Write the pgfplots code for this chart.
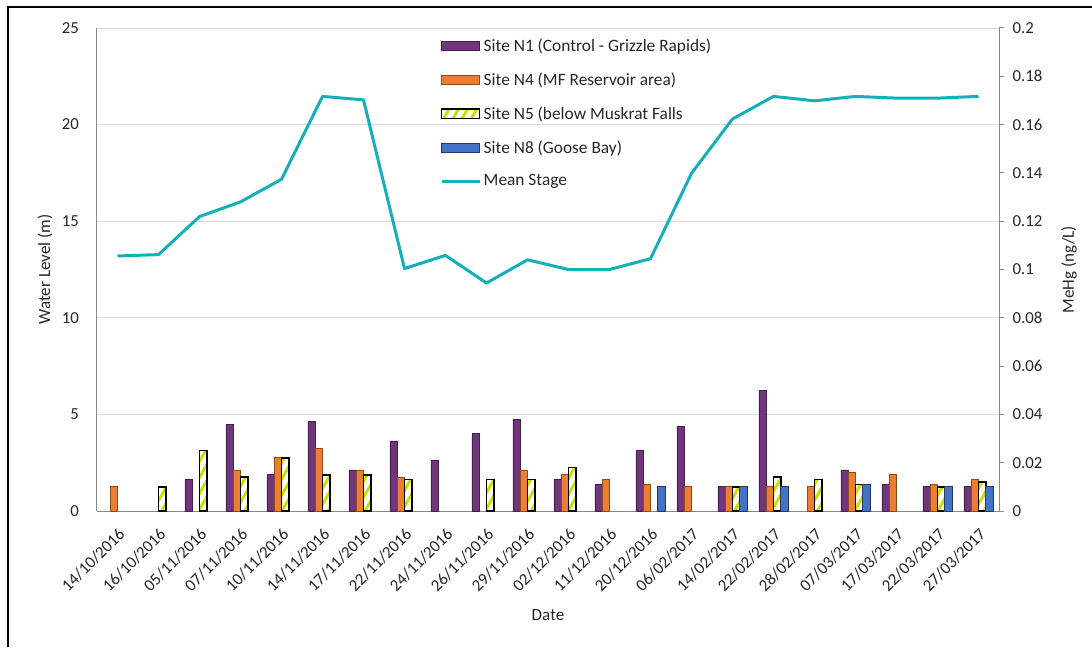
\documentclass[border=0pt]{standalone}
\usepackage{fontspec}
\setmainfont{Carlito}
\usepackage{pgfplots}
\pgfplotsset{compat=1.18}
\usetikzlibrary{patterns.meta}

\definecolor{n1}{HTML}{70357A}
\definecolor{n4}{HTML}{ED7D31}
\definecolor{n5}{HTML}{CCDD00}
\definecolor{n8}{HTML}{4472C4}
\definecolor{stage}{HTML}{14B0BA}
\definecolor{gridc}{HTML}{D9D9D9}
\definecolor{axisc}{HTML}{898989}
\definecolor{textc}{HTML}{262626}

\pgfplotsset{
  base/.style={
    width=676.5pt, height=362.25pt, scale only axis,
    at={(0pt,0pt)}, anchor=south west,
    xmin=-0.5, xmax=21.5,
    axis line style={draw=axisc, line width=0.75pt},
    tick label style={font=\fontsize{12.6}{14}\selectfont, text=textc},
    label style={font=\fontsize{12.8}{15}\selectfont, text=textc},
    /pgf/number format/assume math mode=true,
  },
  barleg/.style={legend image code/.code={\draw[##1] (0pt,-3.6pt) rectangle (28.5pt,3.6pt);}},
  lineleg/.style={legend image code/.code={\draw[##1] (0pt,0pt) -- (28.5pt,0pt);}},
}

\begin{document}
\begin{tikzpicture}
\useasboundingbox (-72.75pt,-102pt) rectangle (746.25pt,383.25pt);

% water level (left axis)
\begin{axis}[base,
    ymin=0, ymax=25, ytick={0,5,...,25},
    axis x line*=bottom, axis y line*=left,
    major tick length=0pt,
    ymajorgrids, grid style={draw=gridc, line width=0.75pt},
    xtick={0,...,21},
    xticklabels={14/10/2016,16/10/2016,05/11/2016,07/11/2016,10/11/2016,14/11/2016,17/11/2016,22/11/2016,24/11/2016,26/11/2016,29/11/2016,02/12/2016,11/12/2016,20/12/2016,06/02/2017,14/02/2017,22/02/2017,28/02/2017,07/03/2017,17/03/2017,22/03/2017,27/03/2017},
    xticklabel style={xshift=3.4pt, yshift=-15pt, rotate=45, anchor=east, inner sep=0pt},
    yticklabel style={xshift=-10pt},
    xlabel={Date},
    xlabel style={at={(axis description cs:0.5,-0.215)}, anchor=center},
    ylabel={Water Level (m)},
    ylabel style={at={(axis description cs:-0.0576,0.5)}, anchor=center},
]
\addplot[color=stage, line width=2.25pt, line join=round, no marks] coordinates {
(0,13.2) (1,13.27) (2,15.24) (3,16.0) (4,17.17) (5,21.46) (6,21.28) (7,12.55)
(8,13.23) (9,11.8) (10,13.0) (11,12.5) (12,12.5) (13,13.06) (14,17.48) (15,20.29)
(16,21.46) (17,21.23) (18,21.46) (19,21.37) (20,21.37) (21,21.46)};
\end{axis}

% MeHg (right axis)
\begin{axis}[base,
    ymin=0, ymax=0.2, ytick={0,0.02,...,0.2},
    axis x line=none, axis y line*=right,
    tick align=outside, major tick length=3.75pt,
    ytick style={draw=axisc, line width=0.75pt},
    scaled y ticks=false,
    yticklabel style={/pgf/number format/fixed, /pgf/number format/precision=2, xshift=3pt},
    ylabel={MeHg (ng/L)},
    ylabel style={at={(axis description cs:1.0776,0.5)}, anchor=center, rotate=0},
    legend style={at={(0.3756,0.99)}, anchor=north west, draw=none, fill=none,
      font=\fontsize{13}{15}\selectfont, text=textc, row sep=10.5pt},
    legend cell align=left,
]
\addplot[ybar, bar width=0.178, bar shift=-0.267, fill=n1, draw=n1!60!black, line width=0.6pt, barleg] coordinates {
(2,0.013) (3,0.036) (4,0.015) (5,0.037) (6,0.017) (7,0.029) (8,0.021) (9,0.032)
(10,0.038) (11,0.013) (12,0.011) (13,0.025) (14,0.035) (15,0.010) (16,0.050)
(18,0.017) (19,0.011) (20,0.010) (21,0.010)};
\addlegendentry{Site N1 (Control - Grizzle Rapids)}
\addplot[ybar, bar width=0.178, bar shift=-0.089, fill=n4, draw=n4!60!black, line width=0.6pt, barleg] coordinates {
(0,0.010) (3,0.017) (4,0.022) (5,0.026) (6,0.017) (7,0.014) (10,0.017) (11,0.015)
(12,0.013) (13,0.011) (14,0.010) (15,0.010) (16,0.010) (17,0.010) (18,0.016)
(19,0.015) (20,0.011) (21,0.013)};
\addlegendentry{Site N4 (MF Reservoir area)}
\addplot[ybar, bar width=0.178, bar shift=0.089, fill=white, draw=black, line width=1.3pt, barleg,
    postaction={pattern={Lines[angle=60, distance=6pt, line width=2.2pt]}, pattern color=n5}] coordinates {
(1,0.010) (2,0.025) (3,0.014) (4,0.022) (5,0.015) (6,0.015) (7,0.013) (9,0.013)
(10,0.013) (11,0.018) (15,0.010) (16,0.014) (17,0.013) (18,0.011) (20,0.010) (21,0.012)};
\addlegendentry{Site N5 (below Muskrat Falls}
\addplot[ybar, bar width=0.178, bar shift=0.267, fill=n8, draw=n8!50!black, line width=0.6pt, barleg] coordinates {
(13,0.010) (15,0.010) (16,0.010) (18,0.011) (20,0.010) (21,0.010)};
\addlegendentry{Site N8 (Goose Bay)}
\addlegendimage{color=stage, line width=2.25pt, lineleg}
\addlegendentry{Mean Stage}
\end{axis}

\draw[line width=1.1pt] (-66.75pt,-102pt) -- (-66.75pt,378pt) -- (746.25pt,378pt);
\end{tikzpicture}
\end{document}
